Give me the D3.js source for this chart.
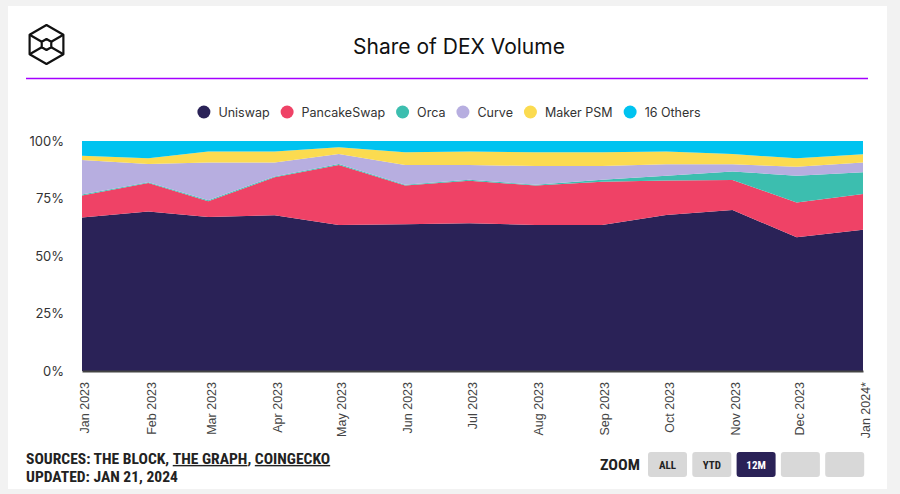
<!DOCTYPE html>
<html><head><meta charset="utf-8">
<script src="https://cdn.jsdelivr.net/npm/d3@7"></script>
<style>html,body{margin:0;padding:0;background:#f2f2f2;} svg{display:block}</style>
</head><body>
<svg id="c" width="900" height="494"></svg>
<script>
// ---- data ----
const months = ["2023-01-01","2023-02-01","2023-03-01","2023-04-01","2023-05-01","2023-06-01","2023-07-01","2023-08-01","2023-09-01","2023-10-01","2023-11-01","2023-12-01","2024-01-01"];
const tickLabels = ["Jan 2023","Feb 2023","Mar 2023","Apr 2023","May 2023","Jun 2023","Jul 2023","Aug 2023","Sep 2023","Oct 2023","Nov 2023","Dec 2023","Jan 2024*"];
const seriesNames = ["Uniswap","PancakeSwap","Orca","Curve","Maker PSM","16 Others"];
const seriesColors = ["#2a2257","#ef4266","#3cbeaf","#b7aee0","#fbdb50","#00c3f0"];
const uniswap     = [66.7,69.4,67.0,67.7,63.5,63.8,64.2,63.5,63.5,67.8,70.0,58.1,61.4];
const pancakeswap = [ 9.6,12.3, 6.8,16.5,26.1,16.8,18.5,17.1,18.8,15.0,13.0,15.2,15.6];
const orca        = [ 0.4, 0.4, 0.4, 0.4, 0.4, 0.4, 0.4, 0.4, 0.8, 2.1, 3.7,11.6, 9.4];
const curve       = [15.0, 7.9,16.4, 6.0, 4.3, 8.6, 6.5, 8.1, 6.0, 5.0, 3.2, 3.9, 4.2];
const makerpsm    = [ 1.9, 2.5, 4.8, 4.8, 3.0, 5.5, 5.8, 6.0, 6.0, 5.5, 4.4, 3.7, 3.6];
const others      = [ 6.4, 7.5, 4.6, 4.6, 2.7, 4.9, 4.6, 4.9, 4.9, 4.6, 5.7, 7.5, 5.8];
const yTicks = [0,25,50,75,100];

const seriesValues = [uniswap,pancakeswap,orca,curve,makerpsm,others];
const parse = d3.timeParse("%Y-%m-%d");
const rows = months.map((m,i)=>{
  const r = {date: parse(m)};
  seriesNames.forEach((n,j)=> r[n] = seriesValues[j][i]);
  return r;
});

const svg = d3.select("#c");
// card
svg.append("rect").attr("x",8).attr("y",6).attr("width",879).attr("height",483).attr("fill","#fff");

// logo
const lg = svg.append("g").attr("transform","translate(46.5,44.5)").attr("fill","none").attr("stroke","#111").attr("stroke-width",2.2).attr("stroke-linejoin","round");
const hex = r => d3.range(6).map(k=>{const a = -Math.PI/2 + k*Math.PI/3; return [r*Math.cos(a), r*Math.sin(a)];});
const outer = hex(19.5), inner = hex(5.5);
lg.append("path").attr("d", d3.line()(outer)+"Z");
lg.append("path").attr("d", d3.line()(inner)+"Z");
[1,2,4,5].forEach(k=> lg.append("line").attr("x1",inner[k][0]).attr("y1",inner[k][1]).attr("x2",outer[k][0]).attr("y2",outer[k][1]));

// title
svg.append("text").attr("x",459).attr("y",54).attr("text-anchor","middle")
  .attr("font-family","Inter, 'Noto Sans', sans-serif").attr("font-size",21).attr("fill","#111")
  .text("Share of DEX Volume");
// purple rule
svg.append("line").attr("x1",26).attr("x2",868).attr("y1",78.5).attr("y2",78.5).attr("stroke","#a400ff").attr("stroke-width",1.5);

// legend
const leg = svg.append("g").attr("font-family","Inter, 'Noto Sans', sans-serif").attr("font-size",12.5).attr("fill","#333");
let lx = 0; const items = [];
seriesNames.forEach((n,i)=>{
  const g = leg.append("g");
  g.append("circle").attr("cx",6.5).attr("cy",0).attr("r",6.5).attr("fill",seriesColors[i]);
  const t = g.append("text").attr("x",21).attr("y",4.5).text(n);
  const w = t.node().getComputedTextLength();
  items.push({g, w});
});
const gap = 11;
let total = items.reduce((s,it)=>s+21+it.w,0) + gap*(items.length-1);
lx = 449 - total/2;
items.forEach(it=>{ it.g.attr("transform",`translate(${lx},112)`); lx += 21+it.w+gap; });

// scales
const x = d3.scaleTime().domain([rows[0].date, rows[rows.length-1].date]).range([82,863]);
const y = d3.scaleLinear().domain([0,100]).range([371,141]);

const stack = d3.stack().keys(seriesNames);
const layers = stack(rows);
const area = d3.area().x(d=>x(d.data.date)).y0(d=>y(d[0])).y1(d=>y(d[1]));
svg.append("g").selectAll("path").data(layers).join("path")
  .attr("d",area).attr("fill",(d,i)=>seriesColors[i]);

// y axis
const ya = svg.append("g").attr("transform","translate(64,0)")
  .call(d3.axisLeft(y).tickValues(yTicks).tickSize(0).tickPadding(0).tickFormat(d=>d+"%"));
ya.select(".domain").remove();
ya.selectAll("text").attr("font-family","Inter, 'Noto Sans', sans-serif").attr("font-size",13).attr("fill","#333");

// x axis
const xa = svg.append("g").attr("transform","translate(0,371)")
  .call(d3.axisBottom(x).tickValues(rows.map(r=>r.date)).tickSize(0).tickFormat((d,i)=>tickLabels[i]));
xa.select(".domain").attr("stroke","#444").attr("stroke-width",2);
xa.selectAll("text").attr("font-family","'Liberation Sans', Arial, sans-serif").attr("font-size",12.5).attr("fill","#444")
  .attr("text-anchor","end").attr("transform","translate(2.5,11) rotate(-90)").attr("x",0).attr("y",0).attr("dy","0.35em");

// footer
const ff = "'Liberation Sans Narrow','Roboto Condensed', Roboto, sans-serif";
const src = svg.append("text").attr("x",26).attr("y",464).attr("font-family",ff).attr("font-weight","bold").attr("font-size",14).attr("fill","#222");
src.append("tspan").text("SOURCES: THE BLOCK, ");
src.append("tspan").attr("text-decoration","underline").text("THE GRAPH");
src.append("tspan").text(", ");
src.append("tspan").attr("text-decoration","underline").text("COINGECKO");
const upd = svg.append("text").attr("x",26).attr("y",482).attr("font-family",ff).attr("font-weight","bold").attr("font-size",14).attr("fill","#222").text("UPDATED: JAN 21, 2024");
const sw = src.node().getBBox().width;
const k = 304/sw;
src.attr("transform",`translate(26,0) scale(${k},1) translate(-26,0)`);
upd.attr("transform",`translate(26,0) scale(${k},1) translate(-26,0)`);

const zt = svg.append("text").attr("x",600).attr("y",470).attr("font-family",ff).attr("font-weight","bold").attr("font-size",15).attr("fill","#222").text("ZOOM");
const zw = zt.node().getBBox().width;
zt.attr("transform",`translate(600,0) scale(${40/zw},1) translate(-600,0)`);

const btns = ["ALL","YTD","12M","",""];
btns.forEach((b,i)=>{
  const bx = 648 + i*44.3;
  const active = b==="12M";
  svg.append("rect").attr("x",bx).attr("y",452).attr("width",39).attr("height",25).attr("rx",3)
    .attr("fill", active ? "#2a2257" : "#d8d8d8");
  if(b){
    const t = svg.append("text").attr("x",bx+19.5).attr("y",469).attr("text-anchor","middle")
      .attr("font-family",ff).attr("font-weight","bold").attr("font-size",11).attr("fill", active?"#fff":"#222").text(b);
  }
});
</script>
</body></html>
